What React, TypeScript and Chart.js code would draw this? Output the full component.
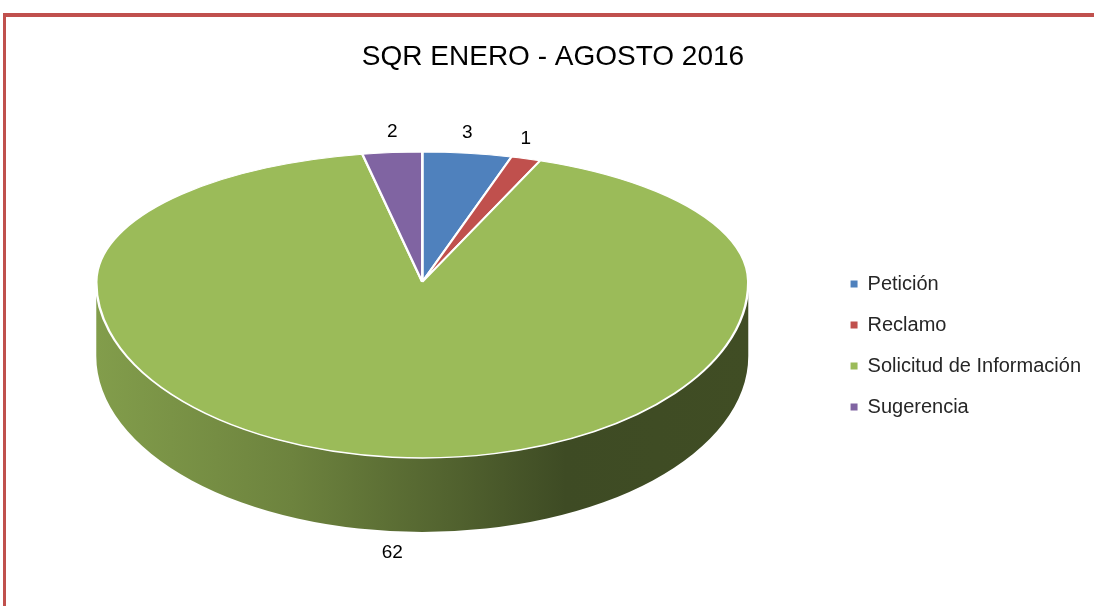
import React, { useEffect, useRef } from 'react';
import { Chart, registerables } from 'chart.js';

Chart.register(...registerables);

const TITLE = 'SQR ENERO - AGOSTO 2016';
const CATEGORIES = ['Petición', 'Reclamo', 'Solicitud de Información', 'Sugerencia'];
const VALUES = [3, 1, 62, 2];
const COLORS = ['#4f81bd', '#c0504d', '#9bbb59', '#8064a2'];

const CANVAS_W = 1094;
const CANVAS_H = 606;
const RADIUS = 326;
const TOP_RATIO = 130 / 326;
const BOTTOM_RATIO = 176 / 326;
const DEPTH = 74;
const FONT = "'Liberation Sans', Arial, sans-serif";

function rgbOf(hex: string) {
  const n = parseInt(hex.slice(1), 16);
  return [(n >> 16) & 255, (n >> 8) & 255, n & 255];
}
function shade(hex: string, f: number) {
  const [r, g, b] = rgbOf(hex);
  return `rgb(${Math.round(r * f)},${Math.round(g * f)},${Math.round(b * f)})`;
}

function geom(chart: any) {
  const meta = chart.getDatasetMeta(0);
  const arcs = meta.data;
  if (!arcs.length) return null;
  const p = arcs[0].getProps(['x', 'y', 'outerRadius'], true);
  return { meta, arcs, cx: p.x, cy: p.y, r: p.outerRadius };
}

const pie3d = {
  id: 'pie3d',
  beforeDatasetsDraw(chart: any) {
    const g = geom(chart);
    if (!g) return;
    const { arcs, cx, cy, r } = g;
    const ctx = chart.ctx;
    const ryB = r * BOTTOM_RATIO;
    const colors = chart.data.datasets[0].backgroundColor as string[];
    arcs.forEach((arc: any, i: number) => {
      const { startAngle: s, endAngle: e } = arc.getProps(['startAngle', 'endAngle'], true);
      const color = colors[i];
      for (let k = -1; k <= 1; k++) {
        const lo = Math.max(s, 2 * Math.PI * k);
        const hi = Math.min(e, 2 * Math.PI * k + Math.PI);
        if (hi <= lo) continue;
        const a0 = lo - 2 * Math.PI * k;
        const a1 = hi - 2 * Math.PI * k;
        const grad = ctx.createLinearGradient(cx - r, 0, cx + r, 0);
        grad.addColorStop(0, shade(color, 0.84));
        grad.addColorStop(0.3, shade(color, 0.7));
        grad.addColorStop(0.72, shade(color, 0.4));
        grad.addColorStop(1, shade(color, 0.41));
        ctx.save();
        ctx.beginPath();
        ctx.ellipse(cx, cy, r, ryB, 0, a0, a1);
        ctx.ellipse(cx, cy + DEPTH, r, ryB, 0, a1, a0, true);
        ctx.closePath();
        ctx.fillStyle = grad;
        ctx.fill();
        ctx.restore();
      }
    });
    ctx.save();
    ctx.beginPath();
    ctx.rect(0, 0, chart.width, cy);
    ctx.clip();
    ctx.translate(cx, cy);
    ctx.scale(1, TOP_RATIO);
    ctx.translate(-cx, -cy);
  },
  afterDatasetsDraw(chart: any) {
    const g = geom(chart);
    if (!g) return;
    const { meta, arcs, cx, cy, r } = g;
    const ctx = chart.ctx;
    ctx.restore();
    ctx.save();
    ctx.beginPath();
    ctx.rect(0, cy, chart.width, chart.height - cy);
    ctx.clip();
    ctx.translate(cx, cy);
    ctx.scale(1, BOTTOM_RATIO);
    ctx.translate(-cx, -cy);
    meta.controller.draw();
    ctx.restore();

    // data labels
    const values = chart.data.datasets[0].data as number[];
    ctx.save();
    ctx.font = `19px ${FONT}`;
    ctx.fillStyle = '#000';
    ctx.textAlign = 'center';
    ctx.textBaseline = 'middle';
    arcs.forEach((arc: any, i: number) => {
      const { startAngle: s, endAngle: e } = arc.getProps(['startAngle', 'endAngle'], true);
      const mid = (s + e) / 2;
      const sx = Math.cos(mid);
      const sy = Math.sin(mid);
      const x = cx + r * sx;
      let y;
      if (sy < 0) {
        y = cy + (r * TOP_RATIO + 21) * sy;
      } else {
        y = cy + (r * BOTTOM_RATIO + 22) * sy + DEPTH;
      }
      ctx.fillText(String(values[i]), x, y);
    });
    ctx.restore();
  },
};

export default function App() {
  const ref = useRef<HTMLCanvasElement>(null);
  useEffect(() => {
    if (!ref.current) return;
    const ov: any = (Chart as any).overrides;
    const baseGen =
      (ov.pie && ov.pie.plugins && ov.pie.plugins.legend && ov.pie.plugins.legend.labels.generateLabels) ||
      ov.doughnut.plugins.legend.labels.generateLabels;
    const chart = new Chart(ref.current, {
      type: 'pie',
      data: {
        labels: CATEGORIES,
        datasets: [
          {
            data: VALUES,
            backgroundColor: COLORS,
            borderColor: '#ffffff',
            borderWidth: 2.5,
            radius: RADIUS,
            clip: false,
          } as any,
        ],
      },
      options: {
        responsive: false,
        animation: false,
        devicePixelRatio: 1,
        layout: { padding: { left: 15, right: 3, top: 0, bottom: 125.6 } },
        plugins: {
          title: {
            display: true,
            text: TITLE,
            color: '#000',
            font: { family: FONT, size: 28, weight: 'normal' },
            padding: { top: 40, bottom: 10 },
          },
          legend: {
            display: true,
            position: 'right',
            fullSize: false,
            title: {
              display: true,
              text: ' ',
              font: { size: 12 },
              padding: { top: 112.6, bottom: 0 },
            },
            labels: {
              boxWidth: 7,
              boxHeight: 7,
              padding: 21,
              color: '#262626',
              font: { family: FONT, size: 20 },
              generateLabels: (c: any) =>
                baseGen(c).map((l: any) => ({ ...l, lineWidth: 0, strokeStyle: 'rgba(0,0,0,0)' })),
            },
          },
          tooltip: { enabled: false },
        },
      },
      plugins: [pie3d],
    });
    return () => chart.destroy();
  }, []);

  return (
    <div
      style={{
        position: 'fixed',
        left: 0,
        top: 0,
        width: 1094,
        height: 606,
        overflow: 'hidden',
        background: '#fff',
      }}
    >
      <div
        style={{
          position: 'absolute',
          left: 3,
          top: 13,
          width: 1200,
          height: 700,
          borderTop: '4px solid #c0504d',
          borderLeft: '3px solid #c0504d',
        }}
      />
      <canvas
        ref={ref}
        width={CANVAS_W}
        height={CANVAS_H}
        style={{ position: 'absolute', left: 0, top: 0, width: CANVAS_W, height: CANVAS_H }}
      />
    </div>
  );
}
